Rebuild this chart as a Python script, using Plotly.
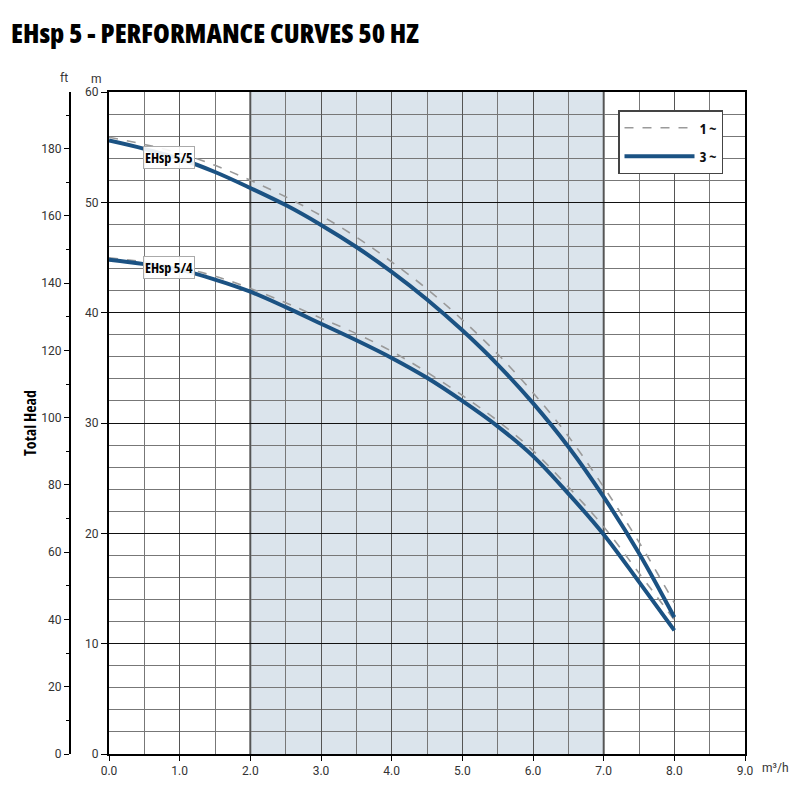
import plotly.graph_objects as go

# ---- data ----
flow = [0.0, 0.5, 1.0, 1.5, 2.0, 2.5, 3.0, 3.5, 4.0, 4.5, 5.0, 5.5, 6.0, 6.5, 7.0, 7.5, 8.0]
head_55_3ph = [55.6, 54.85, 53.95, 52.75, 51.3, 49.75, 47.95, 45.95, 43.7, 41.2, 38.4, 35.3, 31.8, 27.85, 23.3, 18.2, 12.4]
head_55_1ph = [55.9, 55.25, 54.45, 53.35, 52.0, 50.5, 48.8, 46.85, 44.6, 42.15, 39.35, 36.25, 32.75, 28.8, 24.2, 19.2, 13.7]
head_54_3ph = [44.8, 44.4, 43.9, 43.0, 41.9, 40.5, 39.0, 37.5, 35.9, 34.1, 32.0, 29.7, 27.0, 23.6, 19.9, 15.6, 11.2]
head_54_1ph = [44.97, 44.6, 44.1, 43.3, 42.2, 40.9, 39.5, 38.1, 36.5, 34.6, 32.5, 30.2, 27.5, 24.2, 20.6, 16.4, 12.15]

x_ticks = [0, 1, 2, 3, 4, 5, 6, 7, 8, 9]
x_ticktext = ["0.0", "1.0", "2.0", "3.0", "4.0", "5.0", "6.0", "7.0", "8.0", "9.0"]
m_ticks = [0, 10, 20, 30, 40, 50, 60]
ft_ticks = [0, 20, 40, 60, 80, 100, 120, 140, 160, 180]
M2FT = 3.28084
band = [2.0, 7.0]

# ---- layout geometry (screen pixels; page body adds an 8px offset) ----
OFF = 8
W, H = 800, 800
SCR_LEFT, SCR_RIGHT, SCR_TOP, SCR_BOTTOM = 109, 745, 92, 754
AX_LEFT = 40  # screen x where paper area begins
ML = AX_LEFT - OFF
MR = W - (SCR_RIGHT - OFF)
MT = SCR_TOP - OFF
MB = H - (SCR_BOTTOM - OFF)
PW, PH = W - ML - MR, H - MT - MB


def px_x(px):
    return (px - OFF - ML) / PW


def px_y(py):
    return (H - MB - (py - OFF)) / PH


def cond(t):
    return '<span style="font-stretch:75%">' + t + '</span>'


BLUE = "#1b5283"
DASH = "#9a9a9a"
FONT = "Roboto"
COND = "Open Sans"

fig = go.Figure()

fig.add_trace(go.Scatter(x=flow, y=head_55_1ph, mode="lines", name=cond("1 ~"),
                         line=dict(color=DASH, width=1.6, dash="dash", shape="spline"),
                         legendgroup="a", hoverinfo="skip"))
fig.add_trace(go.Scatter(x=flow, y=head_54_1ph, mode="lines", name="1 ~",
                         line=dict(color=DASH, width=1.6, dash="dash", shape="spline"),
                         legendgroup="a", showlegend=False, hoverinfo="skip"))
fig.add_trace(go.Scatter(x=flow, y=head_55_3ph, mode="lines", name=cond("3 ~"),
                         line=dict(color=BLUE, width=4, shape="spline"),
                         legendgroup="b", hoverinfo="skip"))
fig.add_trace(go.Scatter(x=flow, y=head_54_3ph, mode="lines", name="3 ~",
                         line=dict(color=BLUE, width=4, shape="spline"),
                         legendgroup="b", showlegend=False, hoverinfo="skip"))
# invisible trace to carry the feet axis
fig.add_trace(go.Scatter(x=flow, y=[v * M2FT for v in head_55_3ph], yaxis="y2",
                         mode="lines", line=dict(width=0), showlegend=False,
                         hoverinfo="skip"))

fig.add_shape(type="rect", xref="x", yref="y", x0=band[0], x1=band[1], y0=0, y1=60,
              fillcolor="#dbe4ec", line=dict(width=0), layer="below")
for bx in band:
    fig.add_shape(type="line", xref="x", yref="y", x0=bx, x1=bx, y0=0, y1=60,
                  line=dict(color="#333", width=1.8), layer="below")

fig.update_layout(
    width=W, height=H,
    margin=dict(l=ML, r=MR, t=MT, b=MB),
    paper_bgcolor="white", plot_bgcolor="white",
    font=dict(family=FONT, size=12, color="#333"),
    xaxis=dict(range=[0, 9], domain=[px_x(SCR_LEFT), 1], tickvals=x_ticks,
               ticktext=x_ticktext, showgrid=True, gridcolor="#555", gridwidth=1,
               minor=dict(dtick=0.5, showgrid=True, gridcolor="#777", gridwidth=1),
               showline=True, linecolor="black", linewidth=2, mirror=True,
               ticks="outside", ticklen=5, tickcolor="black", zeroline=False,
               tickfont=dict(size=12, color="#333")),
    yaxis=dict(range=[0, 60], tickvals=m_ticks, showgrid=True, gridcolor="#111",
               gridwidth=1.4,
               minor=dict(dtick=2, showgrid=True, gridcolor="#777", gridwidth=1),
               showline=True, linecolor="black", linewidth=2, mirror=True,
               ticks="outside", ticklen=6, tickcolor="black", zeroline=False,
               tickfont=dict(size=12, color="#333")),
    yaxis2=dict(overlaying="y", anchor="free", position=px_x(70), side="left",
                range=[0, 60 * M2FT], tickvals=ft_ticks, showgrid=False,
                showline=True, linecolor="black", linewidth=2,
                ticks="outside", ticklen=5, tickcolor="black", zeroline=False,
                minor=dict(dtick=10, ticks="outside", ticklen=3, tickcolor="black"),
                tickfont=dict(size=12, color="#333")),
    legend=dict(x=px_x(618), y=px_y(110), xanchor="left", yanchor="top",
                bgcolor="white", bordercolor="#444", borderwidth=1.5,
                font=dict(family=COND, size=15, color="#111", weight=700),
                itemwidth=70, traceorder="grouped", tracegroupgap=6),
    showlegend=True,
)

annotations = [
    dict(text=cond("EHsp 5 - PERFORMANCE CURVES 50 HZ"), x=px_x(9), y=px_y(33),
         xref="paper", yref="paper", xanchor="left", yanchor="middle", showarrow=False,
         font=dict(family=COND, size=27, color="black", weight=800)),
    dict(text=cond("Total Head"), x=px_x(30), y=px_y(423), xref="paper", yref="paper",
         xanchor="center", yanchor="middle",
         textangle=-90, showarrow=False,
         font=dict(family=COND, size=16, color="black", weight=700)),
    dict(text="ft", x=px_x(64), y=px_y(78), xref="paper", yref="paper", showarrow=False,
         xanchor="center", yanchor="middle", font=dict(size=12, color="#333")),
    dict(text="m", x=px_x(96), y=px_y(79), xref="paper", yref="paper", showarrow=False,
         xanchor="center", yanchor="middle", font=dict(size=12, color="#333")),
    dict(text="m³/h", x=px_x(760), y=px_y(768), xref="paper", yref="paper", showarrow=False,
         xanchor="left", yanchor="middle", font=dict(size=12, color="#333")),
    dict(text=cond("EHsp 5/5"), x=0.85, y=54.1, xref="x", yref="y", showarrow=False,
         xanchor="center", yanchor="middle",
         bgcolor="rgba(255,255,255,0.9)", bordercolor="#aaa", borderwidth=1, borderpad=1,
         font=dict(family=COND, size=14, color="black", weight=700)),
    dict(text=cond("EHsp 5/4"), x=0.85, y=44.05, xref="x", yref="y", showarrow=False,
         xanchor="center", yanchor="middle",
         bgcolor="rgba(255,255,255,0.9)", bordercolor="#aaa", borderwidth=1, borderpad=1,
         font=dict(family=COND, size=14, color="black", weight=700)),
]
fig.update_layout(annotations=annotations)

fig.write_html("out.html")
